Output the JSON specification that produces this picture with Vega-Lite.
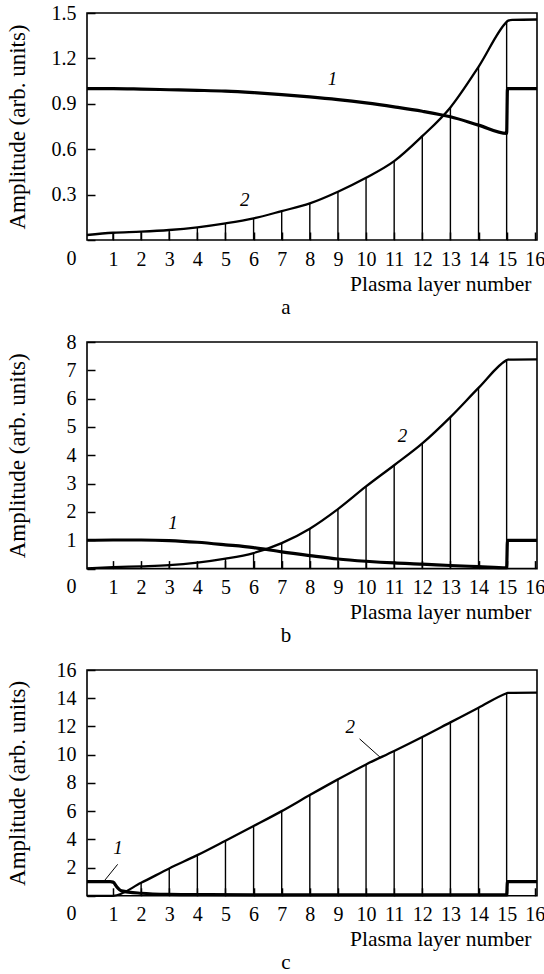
{
  "$schema": "https://vega.github.io/schema/vega-lite/v6.json",
  "padding": {"left": 5, "top": 2, "right": 0, "bottom": 0},
  "spacing": 12,
  "config": {
    "font": "Liberation Serif",
    "view": {"stroke": "black", "strokeWidth": 1.6},
    "axis": {
      "domain": false, "grid": false,
      "labelFont": "Liberation Serif", "labelFontSize": 20, "labelColor": "black",
      "titleFont": "Liberation Serif", "titleFontSize": 21.5, "titleFontWeight": "normal", "titleColor": "black",
      "tickColor": "black", "tickSize": -8, "tickWidth": 1.5
    },
    "axisY": {"titleFontSize": 23},
    "title": {"font": "Liberation Serif", "fontSize": 21, "fontWeight": "normal", "color": "black"}
  },
  "datasets": {
    "curves": [
      {"p": "a", "s": 1, "x": 0.075, "y": 1.0}, {"p": "a", "s": 1, "x": 1, "y": 1.0}, {"p": "a", "s": 1, "x": 2, "y": 0.997},
      {"p": "a", "s": 1, "x": 3, "y": 0.993}, {"p": "a", "s": 1, "x": 4, "y": 0.989}, {"p": "a", "s": 1, "x": 5, "y": 0.984},
      {"p": "a", "s": 1, "x": 6, "y": 0.974}, {"p": "a", "s": 1, "x": 7, "y": 0.961}, {"p": "a", "s": 1, "x": 8, "y": 0.946},
      {"p": "a", "s": 1, "x": 9, "y": 0.928}, {"p": "a", "s": 1, "x": 10, "y": 0.906}, {"p": "a", "s": 1, "x": 11, "y": 0.88},
      {"p": "a", "s": 1, "x": 12, "y": 0.851}, {"p": "a", "s": 1, "x": 13, "y": 0.814}, {"p": "a", "s": 1, "x": 14, "y": 0.759},
      {"p": "a", "s": 1, "x": 15, "y": 0.704}, {"p": "a", "s": 1, "x": 15.03, "y": 1.0}, {"p": "a", "s": 1, "x": 16.08, "y": 1.0},
      {"p": "a", "s": 2, "x": 0.075, "y": 0.033}, {"p": "a", "s": 2, "x": 1, "y": 0.048}, {"p": "a", "s": 2, "x": 2, "y": 0.055},
      {"p": "a", "s": 2, "x": 3, "y": 0.066}, {"p": "a", "s": 2, "x": 4, "y": 0.084}, {"p": "a", "s": 2, "x": 5, "y": 0.11},
      {"p": "a", "s": 2, "x": 6, "y": 0.143}, {"p": "a", "s": 2, "x": 7, "y": 0.191}, {"p": "a", "s": 2, "x": 8, "y": 0.242},
      {"p": "a", "s": 2, "x": 9, "y": 0.319}, {"p": "a", "s": 2, "x": 10, "y": 0.411}, {"p": "a", "s": 2, "x": 11, "y": 0.521},
      {"p": "a", "s": 2, "x": 12, "y": 0.686}, {"p": "a", "s": 2, "x": 13, "y": 0.876}, {"p": "a", "s": 2, "x": 14, "y": 1.144},
      {"p": "a", "s": 2, "x": 15, "y": 1.441}, {"p": "a", "s": 2, "x": 15.04, "y": 1.448}, {"p": "a", "s": 2, "x": 15.2, "y": 1.455},
      {"p": "a", "s": 2, "x": 16.08, "y": 1.457},

      {"p": "b", "s": 1, "x": 0.075, "y": 1.0}, {"p": "b", "s": 1, "x": 1, "y": 1.01}, {"p": "b", "s": 1, "x": 2, "y": 1.01},
      {"p": "b", "s": 1, "x": 3, "y": 0.99}, {"p": "b", "s": 1, "x": 4, "y": 0.93}, {"p": "b", "s": 1, "x": 5, "y": 0.84},
      {"p": "b", "s": 1, "x": 6, "y": 0.74}, {"p": "b", "s": 1, "x": 7, "y": 0.59}, {"p": "b", "s": 1, "x": 8, "y": 0.46},
      {"p": "b", "s": 1, "x": 9, "y": 0.34}, {"p": "b", "s": 1, "x": 10, "y": 0.26}, {"p": "b", "s": 1, "x": 11, "y": 0.2},
      {"p": "b", "s": 1, "x": 12, "y": 0.16}, {"p": "b", "s": 1, "x": 13, "y": 0.11}, {"p": "b", "s": 1, "x": 14, "y": 0.07},
      {"p": "b", "s": 1, "x": 15, "y": 0.03}, {"p": "b", "s": 1, "x": 15.03, "y": 1.0}, {"p": "b", "s": 1, "x": 16.08, "y": 1.0},
      {"p": "b", "s": 2, "x": 0.075, "y": 0.01}, {"p": "b", "s": 2, "x": 1, "y": 0.05}, {"p": "b", "s": 2, "x": 2, "y": 0.08},
      {"p": "b", "s": 2, "x": 3, "y": 0.12}, {"p": "b", "s": 2, "x": 4, "y": 0.21}, {"p": "b", "s": 2, "x": 5, "y": 0.35},
      {"p": "b", "s": 2, "x": 6, "y": 0.55}, {"p": "b", "s": 2, "x": 7, "y": 0.9}, {"p": "b", "s": 2, "x": 8, "y": 1.41},
      {"p": "b", "s": 2, "x": 9, "y": 2.1}, {"p": "b", "s": 2, "x": 10, "y": 2.9}, {"p": "b", "s": 2, "x": 11, "y": 3.65},
      {"p": "b", "s": 2, "x": 12, "y": 4.42}, {"p": "b", "s": 2, "x": 13, "y": 5.35}, {"p": "b", "s": 2, "x": 14, "y": 6.38},
      {"p": "b", "s": 2, "x": 15, "y": 7.36}, {"p": "b", "s": 2, "x": 15.04, "y": 7.38}, {"p": "b", "s": 2, "x": 16.08, "y": 7.39},

      {"p": "c", "s": 1, "x": 0.075, "y": 1.0}, {"p": "c", "s": 1, "x": 0.9, "y": 1.0}, {"p": "c", "s": 1, "x": 1.0, "y": 0.97},
      {"p": "c", "s": 1, "x": 1.15, "y": 0.6}, {"p": "c", "s": 1, "x": 1.3, "y": 0.35}, {"p": "c", "s": 1, "x": 2, "y": 0.18},
      {"p": "c", "s": 1, "x": 3, "y": 0.1}, {"p": "c", "s": 1, "x": 4, "y": 0.08}, {"p": "c", "s": 1, "x": 6, "y": 0.07},
      {"p": "c", "s": 1, "x": 8, "y": 0.07}, {"p": "c", "s": 1, "x": 10, "y": 0.07}, {"p": "c", "s": 1, "x": 12, "y": 0.07},
      {"p": "c", "s": 1, "x": 14, "y": 0.07}, {"p": "c", "s": 1, "x": 15, "y": 0.07}, {"p": "c", "s": 1, "x": 15.03, "y": 1.0},
      {"p": "c", "s": 1, "x": 16.08, "y": 1.0},
      {"p": "c", "s": 2, "x": 0.075, "y": 0}, {"p": "c", "s": 2, "x": 1, "y": 0}, {"p": "c", "s": 2, "x": 2, "y": 0.92},
      {"p": "c", "s": 2, "x": 3, "y": 1.94}, {"p": "c", "s": 2, "x": 4, "y": 2.88}, {"p": "c", "s": 2, "x": 5, "y": 3.9},
      {"p": "c", "s": 2, "x": 6, "y": 4.94}, {"p": "c", "s": 2, "x": 7, "y": 6.0}, {"p": "c", "s": 2, "x": 8, "y": 7.14},
      {"p": "c", "s": 2, "x": 9, "y": 8.25}, {"p": "c", "s": 2, "x": 10, "y": 9.31}, {"p": "c", "s": 2, "x": 11, "y": 10.26},
      {"p": "c", "s": 2, "x": 12, "y": 11.25}, {"p": "c", "s": 2, "x": 13, "y": 12.29}, {"p": "c", "s": 2, "x": 14, "y": 13.33},
      {"p": "c", "s": 2, "x": 15, "y": 14.35}, {"p": "c", "s": 2, "x": 15.04, "y": 14.38}, {"p": "c", "s": 2, "x": 16.08, "y": 14.4}
    ],
    "labels": [
      {"p": "a", "x": 8.81, "y": 1.063, "t": "1"}, {"p": "a", "x": 5.69, "y": 0.264, "t": "2"},
      {"p": "b", "x": 3.13, "y": 1.6, "t": "1"}, {"p": "b", "x": 11.3, "y": 4.67, "t": "2"},
      {"p": "c", "x": 1.18, "y": 3.37, "t": "1"}, {"p": "c", "x": 9.44, "y": 11.95, "t": "2"}
    ],
    "leaders": [
      {"p": "c", "x": 0.666, "y": 1.0, "x2": 1.165, "y2": 2.23},
      {"p": "c", "x": 9.77, "y": 11.12, "x2": 10.51, "y2": 9.8}
    ]
  },
  "vconcat": [
    {
      "width": 450, "height": 227,
      "title": {"text": "a", "orient": "bottom", "anchor": "middle", "frame": "group", "dx": -26, "offset": 2},
      "encoding": {
        "x": {"field": "x", "type": "quantitative", "scale": {"domain": [0.075, 16.08], "nice": false, "zero": false},
          "axis": {"values": [1,2,3,4,5,6,7,8,9,10,11,12,13,14,15,16], "title": "Plasma layer number", "titleAlign": "right", "titleX": 444,
            "labelPadding": 17, "titlePadding": 4, "labelFlush": false, "labelOverlap": false}},
        "y": {"field": "y", "type": "quantitative", "scale": {"domain": [0, 1.5], "nice": false},
          "axis": {"values": [0, 0.3, 0.6, 0.9, 1.2, 1.5], "labelExpr": "datum.value == 0 ? '0' : format(datum.value, '.1f')",
            "title": "Amplitude (arb. units)", "labelPadding": 19, "titlePadding": 22, "labelOverlap": false, "labelFlush": false,
            "labelOffset": {"condition": {"test": "datum.value == 0", "value": 18}, "value": 0}}}
      },
      "layer": [
        {"data": {"name": "curves"}, "transform": [{"filter": "datum.p == 'a' && datum.s == 2 && datum.x >= 1 && datum.x <= 15 && datum.x == floor(datum.x)"}],
          "mark": {"type": "rule", "color": "black", "strokeWidth": 1.4}, "encoding": {"y2": {"datum": 0}}},
        {"data": {"name": "curves"}, "transform": [{"filter": "datum.p == 'a' && datum.s == 2"}],
          "mark": {"type": "line", "color": "black", "strokeWidth": 2.3, "interpolate": "monotone"}, "encoding": {}},
        {"data": {"name": "curves"}, "transform": [{"filter": "datum.p == 'a' && datum.s == 1"}],
          "mark": {"type": "line", "color": "black", "strokeWidth": 3.2, "interpolate": "monotone"}, "encoding": {}},
        {"data": {"name": "labels"}, "transform": [{"filter": "datum.p == 'a'"}],
          "mark": {"type": "text", "font": "Liberation Serif", "fontStyle": "italic", "fontSize": 19, "color": "black", "align": "center", "baseline": "middle"},
          "encoding": {"text": {"field": "t"}}}
      ]
    },
    {
      "width": 450, "height": 226.6,
      "title": {"text": "b", "orient": "bottom", "anchor": "middle", "frame": "group", "dx": -26, "offset": 2},
      "encoding": {
        "x": {"field": "x", "type": "quantitative", "scale": {"domain": [0.075, 16.08], "nice": false, "zero": false},
          "axis": {"values": [1,2,3,4,5,6,7,8,9,10,11,12,13,14,15,16], "title": "Plasma layer number", "titleAlign": "right", "titleX": 444,
            "labelPadding": 17, "titlePadding": 4, "labelFlush": false, "labelOverlap": false}},
        "y": {"field": "y", "type": "quantitative", "scale": {"domain": [0, 8], "nice": false},
          "axis": {"values": [0, 1, 2, 3, 4, 5, 6, 7, 8],
            "title": "Amplitude (arb. units)", "labelPadding": 19, "titlePadding": 37, "labelOverlap": false, "labelFlush": false,
            "labelOffset": {"condition": {"test": "datum.value == 0", "value": 18}, "value": 0}}}
      },
      "layer": [
        {"data": {"name": "curves"}, "transform": [{"filter": "datum.p == 'b' && datum.s == 2 && datum.x >= 1 && datum.x <= 15 && datum.x == floor(datum.x)"}],
          "mark": {"type": "rule", "color": "black", "strokeWidth": 1.4}, "encoding": {"y2": {"datum": 0}}},
        {"data": {"name": "curves"}, "transform": [{"filter": "datum.p == 'b' && datum.s == 2"}],
          "mark": {"type": "line", "color": "black", "strokeWidth": 2.3, "interpolate": "monotone"}, "encoding": {}},
        {"data": {"name": "curves"}, "transform": [{"filter": "datum.p == 'b' && datum.s == 1"}],
          "mark": {"type": "line", "color": "black", "strokeWidth": 3.2, "interpolate": "monotone"}, "encoding": {}},
        {"data": {"name": "labels"}, "transform": [{"filter": "datum.p == 'b'"}],
          "mark": {"type": "text", "font": "Liberation Serif", "fontStyle": "italic", "fontSize": 19, "color": "black", "align": "center", "baseline": "middle"},
          "encoding": {"text": {"field": "t"}}}
      ]
    },
    {
      "width": 450, "height": 225.8,
      "title": {"text": "c", "orient": "bottom", "anchor": "middle", "frame": "group", "dx": -26, "offset": 2},
      "encoding": {
        "x": {"field": "x", "type": "quantitative", "scale": {"domain": [0.075, 16.08], "nice": false, "zero": false},
          "axis": {"values": [1,2,3,4,5,6,7,8,9,10,11,12,13,14,15,16], "title": "Plasma layer number", "titleAlign": "right", "titleX": 444,
            "labelPadding": 17, "titlePadding": 4, "labelFlush": false, "labelOverlap": false}},
        "y": {"field": "y", "type": "quantitative", "scale": {"domain": [0, 16], "nice": false},
          "axis": {"values": [0, 2, 4, 6, 8, 10, 12, 14, 16],
            "title": "Amplitude (arb. units)", "labelPadding": 19, "titlePadding": 27, "labelOverlap": false, "labelFlush": false,
            "labelOffset": {"condition": {"test": "datum.value == 0", "value": 18}, "value": 0}}}
      },
      "layer": [
        {"data": {"name": "curves"}, "transform": [{"filter": "datum.p == 'c' && datum.s == 2 && datum.x >= 1 && datum.x <= 15 && datum.x == floor(datum.x)"}],
          "mark": {"type": "rule", "color": "black", "strokeWidth": 1.4}, "encoding": {"y2": {"datum": 0}}},
        {"data": {"name": "curves"}, "transform": [{"filter": "datum.p == 'c' && datum.s == 2"}],
          "mark": {"type": "line", "color": "black", "strokeWidth": 2.3, "interpolate": "monotone"}, "encoding": {}},
        {"data": {"name": "curves"}, "transform": [{"filter": "datum.p == 'c' && datum.s == 1"}],
          "mark": {"type": "line", "color": "black", "strokeWidth": 3.2, "interpolate": "monotone"}, "encoding": {}},
        {"data": {"name": "leaders"}, "transform": [{"filter": "datum.p == 'c'"}],
          "mark": {"type": "rule", "color": "black", "strokeWidth": 1},
          "encoding": {"x2": {"field": "x2"}, "y2": {"field": "y2"}}},
        {"data": {"name": "labels"}, "transform": [{"filter": "datum.p == 'c'"}],
          "mark": {"type": "text", "font": "Liberation Serif", "fontStyle": "italic", "fontSize": 19, "color": "black", "align": "center", "baseline": "middle"},
          "encoding": {"text": {"field": "t"}}}
      ]
    }
  ]
}
